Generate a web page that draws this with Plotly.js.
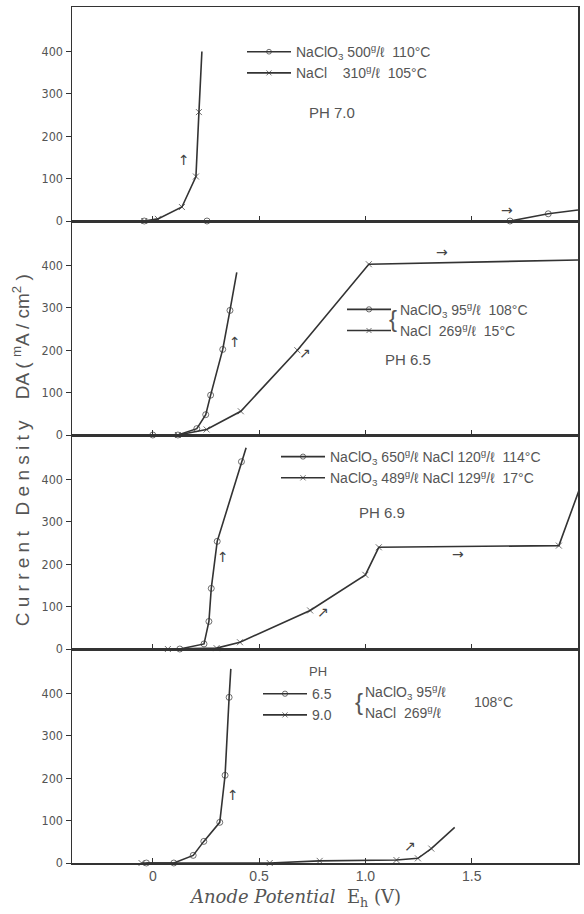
<!DOCTYPE html>
<html><head><meta charset="utf-8">
<script src="https://cdn.plot.ly/plotly-3.0.1.min.js"></script>
<style>html,body{margin:0;padding:0;background:#fff;}</style>
</head><body><div id="chart" style="width:584px;height:914px;"></div>
<script>
// ---- data ----
const xTickVals = [0, 0.5, 1.0, 1.5];
const xTickText = ["0", "0.5", "1.0", "1.5"];
const yTickVals = [0, 100, 200, 300, 400];
const yTickText = ["0", "100", "200", "300", "400"];

// Panel 1: PH 7.0
const p1NaClO3X = [-0.04, 0.255, 1.68, 1.86, 2.0];
const p1NaClO3Y = [0, 0, 0, 17, 26];
const p1NaClX = [-0.04, 0.024, 0.137, 0.203, 0.217, 0.231];
const p1NaClY = [0, 5, 33, 105, 257, 400];
// Panel 2: PH 6.5
const p2NaClO3X = [0.0, 0.118, 0.207, 0.249, 0.272, 0.329, 0.363, 0.395];
const p2NaClO3Y = [0, 0, 15, 48, 94, 202, 294, 384];
const p2NaClX = [0.118, 0.253, 0.414, 0.68, 1.016, 2.0];
const p2NaClY = [0, 13, 56, 200, 403, 413];
// Panel 3: PH 6.9
const p3AX = [0.127, 0.241, 0.264, 0.275, 0.303, 0.417, 0.439];
const p3AY = [0, 12, 65, 143, 254, 442, 475];
const p3BX = [0.071, 0.30, 0.41, 0.74, 1.0, 1.063, 1.91, 2.03];
const p3BY = [0, 2, 16, 91, 175, 240, 244, 409];
// Panel 4: PH 6.5 / 9.0
const p4Ph65X = [-0.03, 0.099, 0.19, 0.24, 0.315, 0.34, 0.359, 0.367];
const p4Ph65Y = [0, 0, 18, 51, 96, 207, 391, 458];
const p4Ph90X = [-0.053, 0.55, 0.785, 1.146, 1.247, 1.31, 1.42];
const p4Ph90Y = [0, 0, 5, 7, 11, 34, 84];

const legendNames = {
  p1a: "NaClO<sub>3</sub> 500<sup>g</sup>/ℓ\u00a0\u00a0110°C",
  p1b: "NaCl\u00a0\u00a0\u00a0\u00a0310<sup>g</sup>/ℓ\u00a0\u00a0105°C",
  p2a: "\u00a0NaClO<sub>3</sub> 95<sup>g</sup>/ℓ\u00a0\u00a0108°C",
  p2b: "\u00a0NaCl\u00a0\u00a0269<sup>g</sup>/ℓ\u00a0\u00a015°C",
  p3a: "NaClO<sub>3</sub> 650<sup>g</sup>/ℓ NaCl 120<sup>g</sup>/ℓ\u00a0\u00a0114°C",
  p3b: "NaClO<sub>3</sub> 489<sup>g</sup>/ℓ NaCl 129<sup>g</sup>/ℓ\u00a0\u00a017°C",
  p4a: "6.5",
  p4b: "9.0"
};

// ---- styling ----
const INK = "#333";
const TXT = "#555";
const FONT = "Liberation Sans, Arial, sans-serif";
const ARROWFONT = "DejaVu Sans, sans-serif";

function series(x, y, name, sym, xa, ya, leg, openEnd) {
  const sizes = x.map((v, i) => (openEnd && i === x.length - 1) ? 0 : 6);
  return {
    x: x, y: y, name: name, type: "scatter", mode: "lines+markers",
    xaxis: xa, yaxis: ya, legend: leg, cliponaxis: false,
    line: {color: INK, width: 1.6},
    marker: {symbol: sym, size: sizes, color: INK, line: {color: INK, width: 1}}
  };
}

const traces = [
  series(p1NaClO3X, p1NaClO3Y, legendNames.p1a, "circle-open", "x", "y", "legend", true),
  series(p1NaClX, p1NaClY, legendNames.p1b, "x-thin-open", "x", "y", "legend", true),
  series(p2NaClO3X, p2NaClO3Y, legendNames.p2a, "circle-open", "x2", "y2", "legend2", true),
  series(p2NaClX, p2NaClY, legendNames.p2b, "x-thin-open", "x2", "y2", "legend2", true),
  series(p3AX, p3AY, legendNames.p3a, "circle-open", "x3", "y3", "legend3", true),
  series(p3BX, p3BY, legendNames.p3b, "x-thin-open", "x3", "y3", "legend3", true),
  series(p4Ph65X, p4Ph65Y, legendNames.p4a, "circle-open", "x4", "y4", "legend4", true),
  series(p4Ph90X, p4Ph90Y, legendNames.p4b, "x-thin-open", "x4", "y4", "legend4", true)
];

const domains = [[0.75, 1], [0.5, 0.75], [0.25, 0.5], [0, 0.25]];
const layout = {
  width: 584, height: 914,
  margin: {l: 72, r: 6, t: 7, b: 51},
  paper_bgcolor: "#fff", plot_bgcolor: "#fff",
  font: {family: FONT, color: TXT, size: 13},
  showlegend: true,
  annotations: [], shapes: []
};
for (let i = 0; i < 4; i++) {
  const s = i === 0 ? "" : String(i + 1);
  const bottom = i === 3;
  layout["xaxis" + s] = {
    domain: [0, 1], range: [-0.38, 2.0], anchor: "y" + s,
    showgrid: false, zeroline: false, showline: true, mirror: true,
    linecolor: INK, linewidth: 1.5,
    tickmode: "array", tickvals: xTickVals, ticktext: xTickText,
    ticks: "inside", ticklen: 5, tickcolor: INK, tickwidth: 1,
    showticklabels: bottom,
    tickfont: {family: FONT, size: 14, color: TXT}
  };
  layout["yaxis" + s] = {
    domain: domains[i], range: [0, 505], anchor: "x" + s,
    showgrid: false, zeroline: false, showline: true, mirror: true,
    linecolor: INK, linewidth: 1.5,
    tickmode: "array", tickvals: yTickVals, ticktext: yTickText,
    ticks: "outside", ticklen: 5, tickcolor: INK, tickwidth: 1,
    tickfont: {family: "DejaVu Sans Condensed, Liberation Sans Narrow, sans-serif", size: 12.5, color: TXT}
  };
}
const legBase = {bgcolor: "rgba(0,0,0,0)", borderwidth: 0, xanchor: "left", yanchor: "top",
  font: {family: FONT, size: 14, color: TXT}, tracegroupgap: 0, itemclick: false, itemwidth: 44};
layout.legend = Object.assign({}, legBase, {x: (242 - 72) / 506, y: 0.966});
layout.legend2 = Object.assign({}, legBase, {x: (342 - 72) / 506, y: 0.665});
layout.legend3 = Object.assign({}, legBase, {x: (276 - 72) / 506, y: 0.493});
layout.legend4 = Object.assign({}, legBase, {x: (258 - 72) / 506, y: 0.216});

function note(text, x, y, ref, size, extra) {
  return Object.assign({text: text, x: x, y: y, xref: "x" + ref, yref: "y" + ref,
    showarrow: false, font: {family: FONT, size: size, color: TXT}}, extra || {});
}
function arrow(text, x, y, ref) {
  return note(text, x, y, ref, 14, {font: {family: ARROWFONT, size: 14, color: "#444"}});
}
layout.annotations.push(
  note("PH 7.0", 0.843, 257, "", 15),
  arrow("↑", 0.146, 144, ""),
  arrow("→", 1.665, 26, ""),
  note("PH 6.5", 1.2, 177, "2", 15),
  note("{", 1.13, 276, "2", 24),
  arrow("↑", 0.386, 219, "2"),
  arrow("↗", 0.716, 194, "2"),
  arrow("→", 1.36, 432, "2"),
  note("PH 6.9", 1.08, 323, "3", 15),
  arrow("↑", 0.33, 217, "3"),
  arrow("↗", 0.80, 87, "3"),
  arrow("→", 1.435, 224, "3"),
  note("PH", 0.776, 451, "4", 13),
  note("{", 0.97, 380, "4", 24),
  note("NaClO<sub>3</sub> 95<sup>g</sup>/ℓ", 0.99, 403, "4", 14, {xanchor: "left"}),
  note("NaCl\u00a0\u00a0269<sup>g</sup>/ℓ", 0.99, 357, "4", 14, {xanchor: "left"}),
  note("108°C", 1.5, 380, "4", 14, {xanchor: "left"}),
  arrow("↑", 0.376, 160, "4"),
  arrow("↗", 1.21, 40, "4"),
  {text: "C u r r e n t\u00a0\u00a0\u00a0D e n s i t y\u00a0\u00a0\u00a0\u00a0DA ( <sup>m</sup>A / cm<sup>2</sup> )",
   x: -0.099, y: 0.482, xref: "paper", yref: "paper", xanchor: "center", yanchor: "middle",
   textangle: -90, showarrow: false,
   font: {family: FONT, size: 19, color: TXT}},
  {text: "<i>Anode Potential</i>\u00a0\u00a0E<sub>h</sub> (V)",
   x: 0.44, y: -0.041, xref: "paper", yref: "paper", xanchor: "center", yanchor: "middle",
   showarrow: false,
   font: {family: "DejaVu Serif, serif", size: 18, color: TXT}}
);

Plotly.newPlot("chart", traces, layout, {staticPlot: true, displayModeBar: false});
</script>
</body></html>
